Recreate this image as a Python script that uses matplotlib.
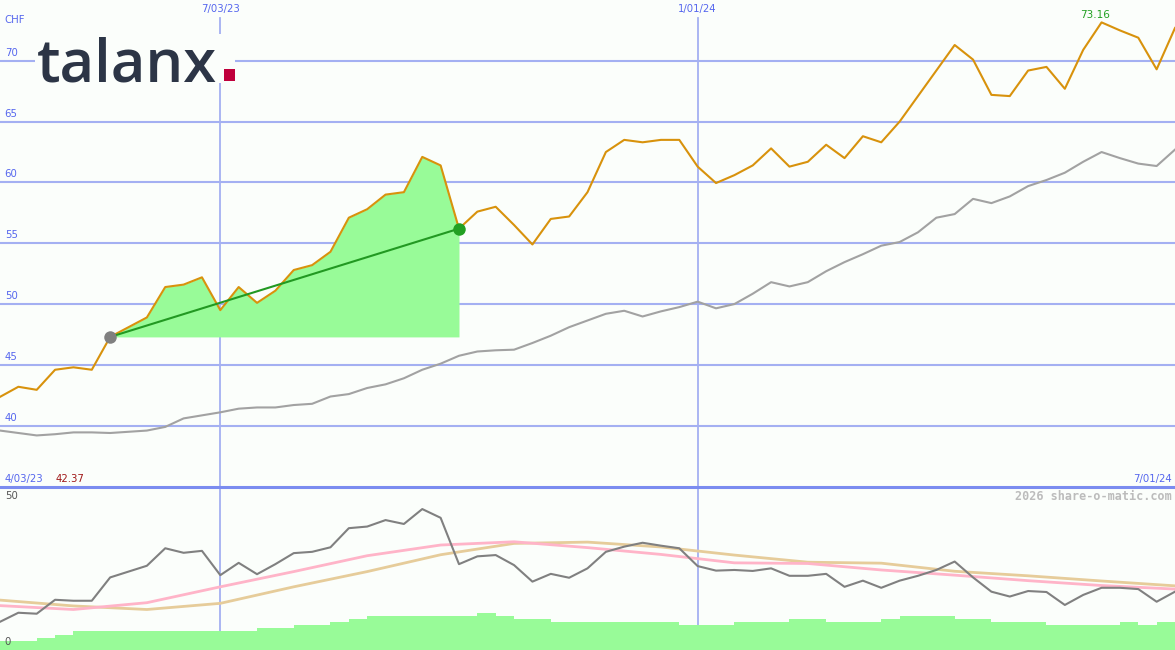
import matplotlib
matplotlib.use("Agg")
import matplotlib.pyplot as plt
from matplotlib.patches import Rectangle
from matplotlib.lines import Line2D
import numpy as np

# weekly closes (CHF), 4/03/23 .. 7/01/24
price = [42.37, 43.2, 42.95, 44.6, 44.8, 44.6, 47.3, 48.1, 48.9, 51.4,
         51.6, 52.2, 49.5, 51.4, 50.1, 51.1, 52.8, 53.2, 54.3, 57.1,
         57.8, 59.0, 59.2, 62.1, 61.4, 56.2, 57.6, 58.0, 56.5, 54.9,
         57.0, 57.2, 59.2, 62.5, 63.5, 63.3, 63.5, 63.5, 61.3, 59.95,
         60.6, 61.4, 62.8, 61.3, 61.7, 63.1, 62.0, 63.8, 63.3, 65.0,
         67.1, 69.2, 71.3, 70.1, 67.2, 67.1, 69.2, 69.5, 67.7, 70.9,
         73.16, 72.5, 71.9, 69.3, 72.7]

moving_avg = [39.6, 39.4, 39.2, 39.3, 39.45, 39.45, 39.4, 39.5, 39.6, 39.9,
              40.6, 40.85, 41.1, 41.4, 41.5, 41.5, 41.7, 41.8, 42.4, 42.6,
              43.1, 43.4, 43.9, 44.6, 45.1, 45.75, 46.1, 46.2, 46.25, 46.8,
              47.4, 48.1, 48.65, 49.2, 49.45, 48.98, 49.4, 49.75, 50.2, 49.65,
              50.0, 50.85, 51.8, 51.45, 51.8, 52.7, 53.45, 54.1, 54.8, 55.1,
              55.9, 57.1, 57.4, 58.65, 58.3, 58.85, 59.7, 60.2, 60.8, 61.7,
              62.5, 62.0, 61.55, 61.35, 62.7]

oscillator = [8.7, 11.5, 11.2, 15.5, 15.2, 15.2, 22.4, 24.2, 26.0, 31.4,
              30.0, 30.6, 23.1, 26.9, 23.4, 26.5, 29.9, 30.3, 31.7, 37.6,
              38.1, 40.1, 38.9, 43.5, 40.8, 26.5, 28.9, 29.3, 26.2, 21.1,
              23.5, 22.3, 25.2, 30.3, 31.9, 33.1, 32.2, 31.4, 25.9, 24.5,
              24.7, 24.4, 25.2, 22.9, 22.9, 23.5, 19.5, 21.4, 19.2, 21.4,
              22.9, 24.7, 27.3, 22.4, 18.0, 16.5, 18.2, 17.9, 13.9, 17.0,
              19.2, 19.2, 18.8, 14.9, 18.0]

ma_idx = [0, 4, 8, 12, 16, 20, 24, 28, 32, 36, 40, 44, 48, 52, 56, 60, 64]
osc_fast = [13.7, 12.5, 14.6, 19.5, 24.2, 29.1, 32.4, 33.4, 31.6, 29.5,
            26.9, 26.7, 24.7, 23.1, 21.4, 19.9, 18.8]
osc_slow = [15.4, 13.6, 12.5, 14.4, 19.5, 24.2, 29.4, 32.9, 33.3, 31.8,
            29.3, 27.1, 26.8, 24.3, 22.9, 21.3, 19.8]

volume = [2.9, 2.9, 3.7, 4.6, 5.9, 5.9, 5.9, 5.9, 5.9, 5.9,
          5.9, 5.9, 5.9, 5.9, 6.8, 6.8, 7.7, 7.7, 8.6, 9.6,
          10.5, 10.5, 10.5, 10.5, 10.5, 10.5, 11.5, 10.5, 9.6, 9.6,
          8.6, 8.6, 8.6, 8.6, 8.6, 8.6, 8.6, 7.7, 7.7, 7.7,
          8.6, 8.6, 8.6, 9.6, 9.6, 8.6, 8.6, 8.6, 9.6, 10.5,
          10.5, 10.5, 9.6, 9.6, 8.6, 8.6, 8.6, 7.7, 7.7, 7.7,
          7.7, 8.6, 7.7, 8.6, 8.6]

y_ticks = [40, 45, 50, 55, 60, 65, 70]
date_pos = [12, 38]
date_labels = ["7/03/23", "1/01/24"]
start_label, end_label = "4/03/23", "7/01/24"
sel_start, sel_end = 6, 25

bg = '#fbfefb'
grid_c = '#a4b0f2'
blue_txt = '#5566ee'
orange = '#d8920c'
pale = '#98fb98'

W, H = 1175, 650
fig = plt.figure(figsize=(W / 100, H / 100), dpi=100, facecolor=bg)
ax = fig.add_axes([0, 163 / H, 1, 487 / H], facecolor=bg)
ax2 = fig.add_axes([0, 0, 1, 162 / H], facecolor=bg)

x = np.arange(len(price))
for a in (ax, ax2):
    a.set_xlim(0, len(price) - 1)
    a.set_xticks([])
    a.set_yticks([])
    for s in a.spines.values():
        s.set_visible(False)

ax.set_ylim(34.96, 75.0)
ax2.set_ylim(0, 50)

# grid + labels
ytrans = ax.get_yaxis_transform()
for v in y_ticks:
    ax.axhline(v, color=grid_c, lw=1.5, zorder=1)
    ax.text(0.004, v + 0.25, str(v), transform=ytrans, fontsize=7.3, color=blue_txt, va='bottom', ha='left')
for p, lab in zip(date_pos, date_labels):
    ax.axvline(p, ymax=0.963, color=grid_c, lw=1.3, zorder=1)
    ax2.axvline(p, color=grid_c, lw=1.3, zorder=1)
    ax.text(p, 74.3, lab, fontsize=7.3, color=blue_txt, ha='center', va='center')

ax.text(0.004, 0.958, "CHF", transform=ax.transAxes, fontsize=7.3, color=blue_txt, va='center')

# selection highlight
xs = x[sel_start:sel_end + 1]
ax.fill_between(xs, price[sel_start:sel_end + 1], price[sel_start], color=pale, lw=0, zorder=2)
ax.plot(x, moving_avg, color='#a2a2a2', lw=1.5, zorder=3)
ax.plot(x, price, color=orange, lw=1.5, zorder=4)
ax.plot([sel_start, sel_end], [price[sel_start], price[sel_end]], color='#229922', lw=1.5, zorder=5)
ax.plot(sel_start, price[sel_start], 'o', color='#808080', ms=9, mec='none', zorder=6)
ax.plot(sel_end, price[sel_end], 'o', color='#22a022', ms=9, mec='none', zorder=6)

imax = int(np.argmax(price))
ax.annotate(f"{price[imax]:.2f}", (imax, price[imax]), xytext=(-5, 2), textcoords='offset points',
            fontsize=7.5, color='#22a022', ha='center', va='bottom')

ax.text(0.004, 0.006, start_label, transform=ax.transAxes, fontsize=7.3, color=blue_txt, va='bottom')
ax.text(56 / W, 0.006, f"{price[0]:.2f}", transform=ax.transAxes, fontsize=7.3, color='#a01818', va='bottom')
ax.text(0.997, 0.006, end_label, transform=ax.transAxes, fontsize=7.3, color=blue_txt, va='bottom', ha='right')

# logo
ax.add_patch(Rectangle((35 / W, 1 - 83 / H), 200 / W, 49 / H, transform=fig.transFigure,
                       facecolor=bg, edgecolor='none', zorder=7, clip_on=False))
fig.text(37 / W, 1 - 81 / H, "talanx", fontsize=43, family='Open Sans', fontweight='semibold',
         color='#2c3546', va='baseline', ha='left', zorder=8)
fig.add_artist(Rectangle((224 / W, 1 - 81 / H), 11 / W, 12 / H, transform=fig.transFigure,
                         facecolor='#c0003c', edgecolor='none', zorder=9))

# separator
fig.add_artist(Line2D([0, 1], [163 / H, 163 / H], color='#7b8cf0', lw=2.2, transform=fig.transFigure))

# lower panel
ax2.plot(ma_idx, osc_slow, color='#e6cc9a', lw=2, zorder=3)
ax2.plot(ma_idx, osc_fast, color='#ffb4c8', lw=2, zorder=3)
ax2.plot(x, oscillator, color='#808080', lw=1.5, zorder=4)
ax2.fill_between(np.append(x, len(x)), np.append(volume, volume[-1]), 0, step='post', color=pale, lw=0, zorder=5)
ax2.text(0.004, 0.95, "50", transform=ax2.transAxes, fontsize=7.3, color='#555555', va='center')
ax2.text(0.004, 0.05, "0", transform=ax2.transAxes, fontsize=7.3, color='#555555', va='center', zorder=6)
ax2.text(0.997, 0.95, "2026 share-o-matic.com", transform=ax2.transAxes, fontsize=8.5,
         family='DejaVu Sans Mono', fontweight='bold', color='#bcbcbc', ha='right', va='center')

fig.savefig("out.png", dpi=100, facecolor=bg)
